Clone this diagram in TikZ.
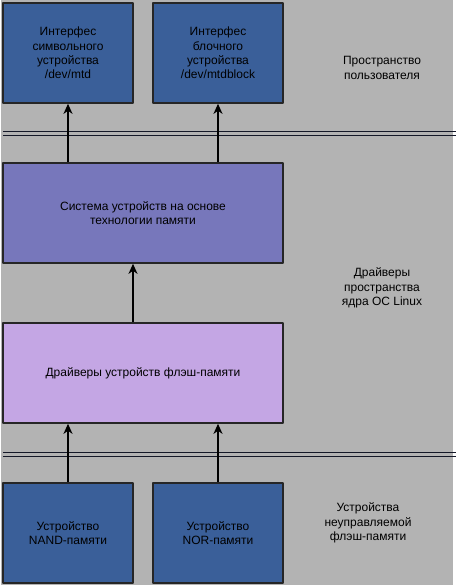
\documentclass[tikz,border=0pt]{standalone}
\usepackage{fontspec}
\setmainfont{Liberation Sans}
\usetikzlibrary{arrows.meta}
\definecolor{blockblue}{RGB}{58,95,153}
\definecolor{sysviolet}{RGB}{119,119,187}
\definecolor{drvlilac}{RGB}{196,166,228}
\definecolor{bggray}{RGB}{179,179,179}
\definecolor{sepline}{RGB}{20,24,40}
\begin{document}
\begin{tikzpicture}[>={Stealth[length=10pt,width=9pt,inset=3pt]},x=1pt,y=-1pt,line join=round,font=\fontsize{12}{14.3}\selectfont,
	block/.style={draw=black!85,line width=1.6pt,minimum width=130pt,minimum height=100pt,align=center,inner sep=2pt},
	wideblock/.style={block,minimum width=280pt},
	layer/.style={align=center},
	link/.style={->,line width=1.5pt}]
		\useasboundingbox (0,0) rectangle (456,586);
		\fill[bggray] (1,0) rectangle (453,585);
		\draw[sepline,line width=0.8pt] (3,131)--(456,131) (3,135)--(456,135);
		\draw[sepline,line width=0.8pt] (3,452)--(456,452) (3,456)--(456,456);
		\node[block,fill=blockblue] (chrdev) at (68,53) {Интерфес\\символьного\\устройства\\/dev/mtd};
		\node[block,fill=blockblue] (blkdev) at (218,53) {Интерфес\\блочного\\устройства\\/dev/mtdblock};
		\node[wideblock,fill=sysviolet] (mtdsys) at (143,213) {Система устройств на основе\\технологии памяти};
		\node[wideblock,fill=drvlilac] (flashdrv) at (143,373) {Драйверы устройств флэш-памяти};
		\node[block,fill=blockblue] (nanddev) at (68,533) {Устройство\\NAND-памяти};
		\node[block,fill=blockblue] (nordev) at (218,533) {Устройство\\NOR-памяти};
		\node[layer] (userlbl) at (382,68) {Пространство\\пользователя};
		\node[layer] (kernlbl) at (382,288) {Драйверы\\пространства\\ядра ОС Linux};
		\node[layer] (rawlbl) at (368,523) {Устройства\\неуправляемой\\флэш-памяти};
		\draw[link] (mtdsys.north -| chrdev.south)--(chrdev.south);
		\draw[link] (mtdsys.north -| blkdev.south)--(blkdev.south);
		\draw[link] ([xshift=-10pt]flashdrv.north)--([xshift=-10pt]mtdsys.south);
		\draw[link] (nanddev.north)--(nanddev.north |- flashdrv.south);
		\draw[link] (nordev.north)--(nordev.north |- flashdrv.south);
\end{tikzpicture}
\end{document}
